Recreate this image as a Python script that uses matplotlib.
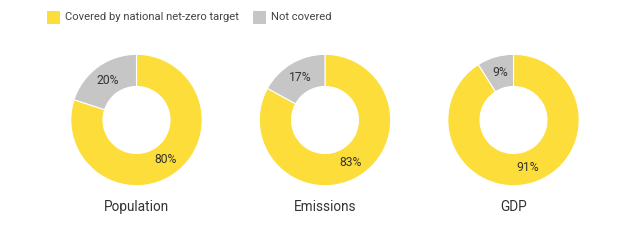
import matplotlib
matplotlib.use("Agg")
import matplotlib.pyplot as plt
from matplotlib.patches import Rectangle

plt.rcParams['font.family'] = ['Roboto', 'DejaVu Sans']

categories = ["Population", "Emissions", "GDP"]
covered = [80, 83, 91]
not_covered = [20, 17, 9]
legend_labels = ["Covered by national net-zero target", "Not covered"]

YELLOW = "#FCDD3A"
GRAY = "#C6C6C6"
TEXT = "#333333"

W, H = 625, 246
fig = plt.figure(figsize=(W / 100, H / 100), dpi=100)
fig.patch.set_facecolor("white")

centers_x = [136.5, 325, 513.5]
cy = 120
R = 67

for cx, name, c, n in zip(centers_x, categories, covered, not_covered):
    ax = fig.add_axes([(cx - R) / W, (H - cy - R) / H, 2 * R / W, 2 * R / H])
    wedges, texts, autotexts = ax.pie(
        [c, n], colors=[YELLOW, GRAY], startangle=90, counterclock=False,
        radius=1, wedgeprops=dict(width=0.49, edgecolor="white", linewidth=0.8),
        autopct=lambda p: f"{p:.0f}%", pctdistance=0.75,
        textprops=dict(color=TEXT, fontsize=8.7))
    ax.set_xlim(-1.02, 1.02)
    ax.set_ylim(-1.02, 1.02)
    ax.set_aspect("auto")
    ax.axis("off")
    fig.text(cx / W, 1 - 207 / H, name, ha="center", va="center",
             fontsize=9.8, color=TEXT)

# legend
sq = 13
items = [(47, YELLOW, legend_labels[0]), (253, GRAY, legend_labels[1])]
for x, col, lab in items:
    fig.patches.append(Rectangle((x / W, 1 - 24 / H), sq / W, sq / H,
                                 transform=fig.transFigure, facecolor=col,
                                 edgecolor="none"))
    fig.text((x + sq + 5) / W, 1 - 17.5 / H, lab, ha="left", va="center",
             fontsize=8.1, color="#444444")

fig.savefig("out.png", dpi=100, facecolor="white")
